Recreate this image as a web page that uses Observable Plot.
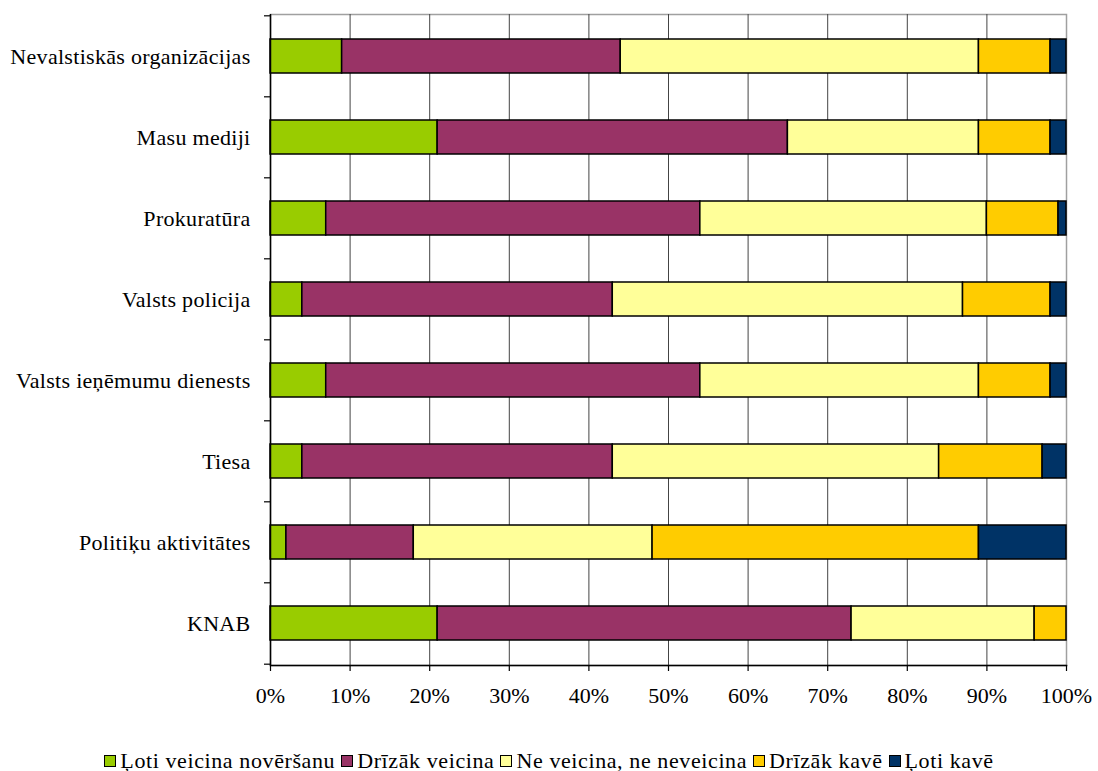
<!DOCTYPE html>
<html><head><meta charset="utf-8">
<script src="https://cdn.jsdelivr.net/npm/d3@7"></script>
<script src="https://cdn.jsdelivr.net/npm/@observablehq/plot@0.6"></script>
<style>
body{margin:0;background:#fff;font-family:"Liberation Serif","Times New Roman",serif;}
#chart svg{display:block;}
#chart g[aria-label="y-axis tick label"] text{letter-spacing:0.3px;}
#legend{display:flex;justify-content:center;align-items:center;padding-top:30px;font-size:22px;line-height:22px;color:#000;letter-spacing:0.6px;}
#legend .item{display:flex;align-items:center;margin:0 3px;}
#legend .sw{width:10px;height:10px;border:1px solid #000;margin-right:4px;}
</style></head><body><div id="chart"></div><div id="legend"></div>
<script>
const categories = ["Nevalstiskās organizācijas","Masu mediji","Prokuratūra","Valsts policija","Valsts ieņēmumu dienests","Tiesa","Politiķu aktivitātes","KNAB"];
const series = ["Ļoti veicina novēršanu","Drīzāk veicina","Ne veicina, ne neveicina","Drīzāk kavē","Ļoti kavē"];
const colors = ["#99CC00","#993366","#FFFF99","#FFCC00","#003366"];
const lotiVeicina = [9,21,7,4,7,4,2,21];
const drizakVeicina = [35,44,47,39,47,39,16,52];
const neVeicina = [45,24,36,44,35,41,30,23];
const drizakKave = [9,9,9,11,9,13,41,4];
const lotiKave = [2,2,1,2,2,3,11,0];
const xTicks = [0,10,20,30,40,50,60,70,80,90,100];

const seriesValues = [lotiVeicina, drizakVeicina, neVeicina, drizakKave, lotiKave];
const data = [];
categories.forEach((c, i) => series.forEach((s, j) => data.push({category: c, series: s, value: seriesValues[j][i]})));

const W = 1098, H = 720, mt = 14, mb = 55, ml = 270, mr = 32;
const step = (H - mt - mb) / categories.length;

const chart = Plot.plot({
  width: W, height: H, marginTop: mt, marginBottom: mb, marginLeft: ml, marginRight: mr,
  style: {fontFamily: "'Liberation Serif','Times New Roman',serif", fontSize: "22px", color: "#000", background: "#fff", overflow: "visible"},
  x: {domain: [0, 100], label: null},
  y: {domain: categories, paddingInner: 0.58, paddingOuter: 0.29, label: null},
  color: {domain: series, range: colors},
  marks: [
    Plot.frame({stroke: "#a0a0a0", strokeWidth: 1.5}),
    Plot.ruleX(xTicks.slice(1, -1), {stroke: "#444", strokeWidth: 1}),
    Plot.barX(data, Plot.stackX({x: "value", y: "category", fill: "series", stroke: "#000", strokeWidth: 1.5})),
    Plot.ruleX([0], {stroke: "#000", strokeWidth: 1.5}),
    Plot.frame({anchor: "bottom", stroke: "#000", strokeWidth: 1.5}),
    Plot.axisX({ticks: xTicks, tickFormat: d => d + "%", tickSize: 6, tickPadding: 16, label: null, fontSize: 22, stroke: "#000", strokeWidth: 1.2}),
    Plot.axisY({tickSize: 6, tickFormat: () => "", dy: -step / 2, label: null, stroke: "#000", strokeWidth: 1.2}),
    Plot.axisY({ticks: [categories[categories.length - 1]], tickSize: 6, tickFormat: () => "", dy: step / 2, label: null, stroke: "#000", strokeWidth: 1.2}),
    Plot.axisY({tickSize: 0, tickPadding: 20, label: null, fontSize: 22})
  ]
});
document.getElementById("chart").appendChild(chart);

const legend = d3.select("#legend");
series.forEach((s, j) => {
  const it = legend.append("div").attr("class", "item");
  it.append("div").attr("class", "sw").style("background", colors[j]);
  it.append("span").text(s);
});
</script>
</body></html>
